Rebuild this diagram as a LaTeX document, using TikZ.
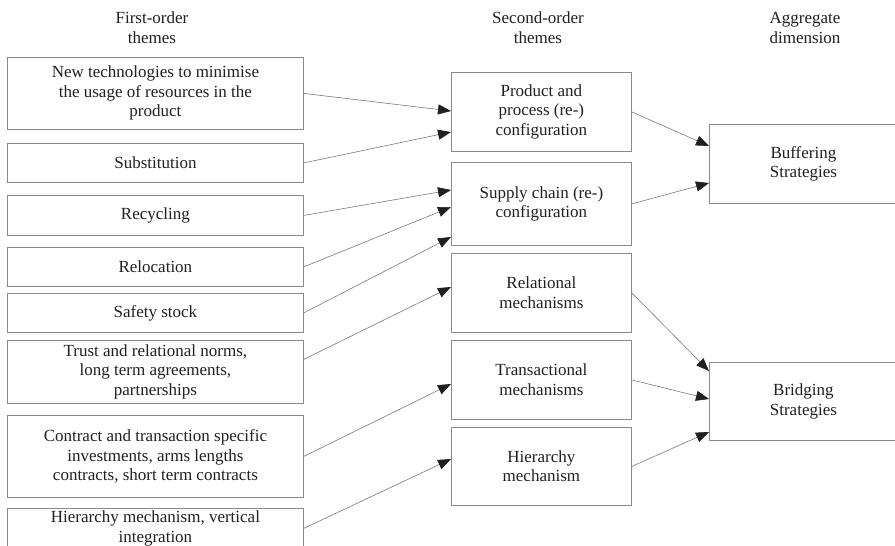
\documentclass[tikz,border=0pt]{standalone}
\usepackage{fontspec}
\setmainfont{Liberation Serif}
\usetikzlibrary{arrows.meta}
\definecolor{txt}{HTML}{231F20}
\definecolor{bord}{HTML}{8A8A8A}
\definecolor{lin}{HTML}{7A7A7A}
\tikzset{
  box/.style={draw=bord, line width=0.8pt, inner sep=0pt, anchor=north west, align=center, text=txt,
    font=\fontsize{17}{19.5}\selectfont},
  hdr/.style={align=center, text=txt, inner sep=0pt, font=\fontsize{17}{20}\selectfont},
  arr/.style={draw=lin, line width=0.6pt, -{Triangle[length=13pt,width=10pt,color=txt]}}
}
\begin{document}
\begin{tikzpicture}[x=1pt,y=-1pt]
\clip (0,0) rectangle (895,546);
\fill[white] (0,0) rectangle (895,546);
% headers
\node[hdr] (h1) at (152,28) {First-order\\themes};
\node[hdr] (h2) at (538,28) {Second-order\\themes};
\node[hdr] (h3) at (805,28) {Aggregate\\dimension};
% left boxes
\node[box, minimum width=296pt, minimum height=72pt] (l1) at (7,57) {New technologies to minimise\\the usage of resources in the\\product};
\node[box, minimum width=296pt, minimum height=39pt] (l2) at (7,143) {Substitution};
\node[box, minimum width=296pt, minimum height=40pt] (l3) at (7,195) {Recycling};
\node[box, minimum width=296pt, minimum height=39pt] (l4) at (7,247) {Relocation};
\node[box, minimum width=296pt, minimum height=39pt] (l5) at (7,293) {Safety stock};
\node[box, minimum width=296pt, minimum height=63pt] (l6) at (7,340) {Trust and relational norms,\\long term agreements,\\partnerships};
\node[box, minimum width=296pt, minimum height=82pt] (l7) at (7,415) {Contract and transaction specific\\investments, arms lengths\\contracts, short term contracts};
\node[box, minimum width=296pt, minimum height=40pt] (l8) at (7,508) {Hierarchy mechanism, vertical\\integration};
% middle boxes
\node[box, minimum width=180pt, minimum height=79pt] (m1) at (451,72) {Product and\\process (re-)\\configuration};
\node[box, minimum width=180pt, minimum height=83pt] (m2) at (451,162) {Supply chain (re-)\\configuration};
\node[box, minimum width=180pt, minimum height=79pt] (m3) at (451,253) {Relational\\mechanisms};
\node[box, minimum width=180pt, minimum height=79pt] (m4) at (451,340) {Transactional\\mechanisms};
\node[box, minimum width=180pt, minimum height=78pt] (m5) at (451,427) {Hierarchy\\mechanism};
% right boxes
\node[box, minimum width=188pt, minimum height=79pt] (r1) at (709,124) {Buffering\\Strategies};
\node[box, minimum width=188pt, minimum height=78pt] (r2) at (709,362) {Bridging\\Strategies};
% arrows first to second
\draw[arr] (l1.east) -- ([yshift=-39pt]m1.north west);
\draw[arr] (l2.east) -- ([yshift=-60pt]m1.north west);
\draw[arr] (l3.east) -- ([yshift=-28pt]m2.north west);
\draw[arr] (l4.east) -- ([yshift=-45pt]m2.north west);
\draw[arr] (l5.east) -- ([yshift=-75pt]m2.north west);
\draw[arr] ([yshift=12.5pt]l6.east) -- ([yshift=-34pt]m3.north west);
\draw[arr] (l7.east) -- ([yshift=-44pt]m4.north west);
\draw[arr] (l8.east) -- ([yshift=-32pt]m5.north west);
% arrows second to aggregate
\draw[arr] (m1.east) -- ([yshift=-22pt]r1.north west);
\draw[arr] (m2.east) -- ([yshift=-59pt]r1.north west);
\draw[arr] (m3.east) -- ([yshift=-9pt]r2.north west);
\draw[arr] (m4.east) -- ([yshift=-37pt]r2.north west);
\draw[arr] (m5.east) -- ([yshift=-70pt]r2.north west);
\end{tikzpicture}
\end{document}
